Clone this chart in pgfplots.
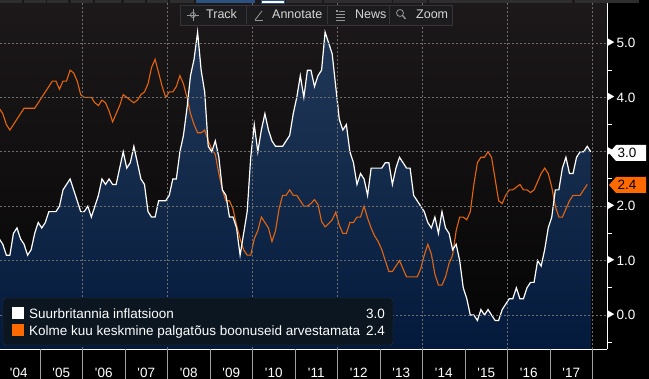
\documentclass[border=0pt]{standalone}
\usepackage{pgfplots}
\pgfplotsset{compat=1.18}
\usepackage{pgfplotstable}
\usepackage{fontspec}
\setmainfont{Liberation Sans}
\definecolor{orangeL}{HTML}{E5650E}
\definecolor{orangeB}{HTML}{FF6A00}
\definecolor{bgTop}{HTML}{1D191B}
\definecolor{bgMid}{HTML}{111311}
\definecolor{bgBot}{HTML}{040404}
\definecolor{fillT}{HTML}{213858}
\definecolor{fillB}{HTML}{02183A}
\definecolor{gridc}{HTML}{6E6E6E}
\definecolor{tbfill}{HTML}{1C1C1E}
\definecolor{tbborder}{HTML}{34343A}
\definecolor{tbtext}{HTML}{D6D6D6}
\definecolor{legfill}{HTML}{0C1620}
\definecolor{legborder}{HTML}{27333F}
\definecolor{tabc}{HTML}{2E2E2E}
\definecolor{tabblue}{HTML}{2C5282}
\definecolor{tickgray}{HTML}{A0A0A0}
\newcommand\bfs{\fontsize{13.5bp}{16bp}\selectfont}
\newcommand\tbfs{\fontsize{12.5bp}{15bp}\selectfont}
\newcommand\tri{\raisebox{2bp}{\tikz\fill[white](0,0)--(0,7bp)--(6bp,3.5bp)--cycle;}\hspace{2.5bp}}

% UK CPI, y/y %, monthly Jan 2004 - Dec 2017
\pgfplotstableread[row sep=\\]{
v\\
1.4\\1.3\\1.1\\1.1\\1.5\\1.6\\1.4\\1.3\\1.1\\1.2\\1.5\\1.7\\
1.6\\1.7\\1.9\\1.9\\1.9\\2.0\\2.3\\2.4\\2.5\\2.3\\2.1\\1.9\\
1.9\\2.0\\1.8\\2.0\\2.2\\2.5\\2.4\\2.5\\2.4\\2.4\\2.7\\3.0\\
2.7\\2.8\\3.1\\2.8\\2.5\\2.4\\1.9\\1.8\\1.8\\2.1\\2.1\\2.1\\
2.2\\2.5\\2.5\\3.0\\3.3\\3.8\\4.4\\4.7\\5.2\\4.5\\4.1\\3.1\\
3.0\\3.2\\2.9\\2.3\\2.2\\1.8\\1.8\\1.6\\1.1\\1.5\\1.9\\2.9\\
3.5\\3.0\\3.4\\3.7\\3.4\\3.2\\3.1\\3.1\\3.1\\3.2\\3.3\\3.7\\
4.0\\4.4\\4.0\\4.5\\4.5\\4.2\\4.4\\4.5\\5.2\\5.0\\4.8\\4.2\\
3.6\\3.4\\3.5\\3.0\\2.8\\2.4\\2.6\\2.5\\2.2\\2.7\\2.7\\2.7\\
2.7\\2.8\\2.8\\2.4\\2.7\\2.9\\2.8\\2.7\\2.7\\2.2\\2.1\\2.0\\
1.9\\1.7\\1.6\\1.8\\1.5\\1.9\\1.6\\1.5\\1.2\\1.3\\1.0\\0.5\\
0.3\\0.0\\0.0\\-0.1\\0.1\\0.0\\0.1\\0.0\\-0.1\\-0.1\\0.1\\0.2\\
0.3\\0.3\\0.5\\0.3\\0.3\\0.5\\0.6\\0.6\\1.0\\0.9\\1.2\\1.6\\
1.8\\2.3\\2.3\\2.7\\2.9\\2.6\\2.6\\2.9\\3.0\\3.0\\3.1\\3.0\\
}\cpi

% Regular pay growth, 3m avg y/y %, monthly Jan 2004 - Nov 2017
\pgfplotstableread[row sep=\\]{
v\\
3.8\\3.7\\3.5\\3.4\\3.5\\3.6\\3.7\\3.8\\3.8\\3.8\\3.8\\3.9\\
4.0\\4.1\\4.2\\4.3\\4.3\\4.15\\4.3\\4.3\\4.5\\4.45\\4.3\\4.05\\
4.0\\4.0\\4.0\\3.9\\3.85\\3.95\\3.9\\3.75\\3.55\\3.7\\3.85\\4.05\\
4.0\\3.95\\3.9\\3.95\\4.05\\4.1\\4.25\\4.55\\4.7\\4.45\\4.2\\4.0\\
4.1\\4.1\\4.2\\4.4\\4.25\\4.0\\3.7\\3.5\\3.35\\3.35\\3.4\\3.2\\
3.05\\2.95\\2.6\\2.3\\2.1\\2.1\\1.95\\1.65\\1.4\\1.2\\1.1\\1.1\\
1.4\\1.55\\1.8\\1.7\\1.6\\1.35\\1.55\\1.95\\2.2\\2.2\\2.3\\2.2\\
2.2\\2.1\\2.0\\2.0\\2.05\\2.12\\2.03\\1.72\\1.62\\1.68\\1.75\\1.89\\
1.65\\1.5\\1.5\\1.7\\1.7\\1.8\\1.8\\2.0\\1.78\\1.6\\1.45\\1.35\\
1.2\\1.0\\0.8\\0.8\\0.9\\1.0\\0.85\\0.7\\0.7\\0.7\\0.7\\0.85\\
1.1\\1.3\\1.12\\0.75\\0.55\\0.55\\0.7\\0.95\\1.1\\1.55\\1.8\\1.8\\
1.75\\1.9\\2.4\\2.8\\2.9\\2.9\\3.0\\2.9\\2.5\\2.1\\2.05\\2.2\\
2.3\\2.3\\2.35\\2.4\\2.3\\2.3\\2.25\\2.3\\2.45\\2.6\\2.7\\2.6\\
2.35\\2.0\\1.8\\1.8\\1.95\\2.1\\2.2\\2.2\\2.2\\2.3\\2.4\\
}\wage

\begin{document}
\begin{tikzpicture}
\useasboundingbox (0,0) rectangle (649bp,379bp);
\fill[black] (0,0) rectangle (649bp,379bp);
\begin{axis}[
  at={(0bp,30bp)}, anchor=south west,
  scale only axis, width=607bp, height=349bp,
  xmin=2004.0588, xmax=2018.341, ymin=-0.625, ymax=5.79,
  axis x line*=bottom, axis y line*=right,
  axis line style={white, line width=1bp, -},
  axis background/.style={top color=bgTop, middle color=bgMid, bottom color=bgBot},
  xtick={2004.5,2005.5,2006.5,2007.5,2008.5,2009.5,2010.5,2011.5,2012.5,2013.5,2014.5,2015.5,2016.5,2017.5},
  xticklabels={\textquotesingle04,\textquotesingle05,\textquotesingle06,\textquotesingle07,\textquotesingle08,\textquotesingle09,\textquotesingle10,\textquotesingle11,\textquotesingle12,\textquotesingle13,\textquotesingle14,\textquotesingle15,\textquotesingle16,\textquotesingle17},
  xticklabel style={anchor=north, inner sep=0pt, yshift=-19bp, font=\bfs, text=white},
  ytick={0,1,2,3,4,5},
  yticklabels={\tri0.0,\tri1.0,\tri2.0,\tri3.0,\tri4.0,\tri5.0},
  yticklabel style={anchor=west, inner sep=0pt, xshift=1bp, font=\bfs, text=white},
  minor ytick={-0.5,0.5,1.5,2.5,3.5,4.5},
  major tick length=0pt, minor tick length=5bp, tick align=outside,
  tick style={white, line width=1bp},
  ymajorgrids,
  grid style={gridc, line width=0.8bp, dash pattern=on 2bp off 2bp},
  extra x ticks={2006,2008,2010,2012,2014,2016,2018},
  extra x tick labels={},
  extra x tick style={grid=major},
  axis on top,
]
\addplot[draw=none, top color=fillT, bottom color=fillB]
  table[x expr={2004+(\coordindex+0.5)/12}, y=v]{\cpi}
  -- (axis cs:2017.96,-1) -- (axis cs:2004.04,-1) -- cycle;
\addplot[orangeL, line width=1.1bp] table[x expr={2004+(\coordindex+0.5)/12}, y=v]{\wage};
\addplot[white, line width=1.2bp] table[x expr={2004+(\coordindex+0.5)/12}, y=v]{\cpi};
\end{axis}
% year boundary ticks
\foreach \k in {0,...,13} \draw[tickgray, line width=1bp] ({(40+42.5*\k)*1bp},0) -- ({(40+42.5*\k)*1bp},30bp);
% last value boxes
\fill[white] (609bp,226bp) -- (616bp,234bp) -- (646bp,234bp) -- (646bp,218bp) -- (616bp,218bp) -- cycle;
\node[text=black, font=\bfs, inner sep=0pt] at (627bp,226bp) {3.0};
\fill[orangeB] (609bp,194bp) -- (616bp,202bp) -- (646bp,202bp) -- (646bp,186bp) -- (616bp,186bp) -- cycle;
\node[text=black, font=\bfs, inner sep=0pt] at (627bp,194bp) {2.4};
% legend
\filldraw[fill=legfill, draw=legborder, rounded corners=3bp] (3bp,34bp) rectangle (393bp,81bp);
\fill[white] (12bp,60bp) rectangle (24bp,72bp);
\fill[orangeB] (12bp,43bp) rectangle (24bp,55bp);
\node[anchor=base west, inner sep=0pt, font=\bfs, text=white] at (29bp,60bp) {Suurbritannia inflatsioon};
\node[anchor=base east, inner sep=0pt, font=\bfs, text=white] at (385bp,60bp) {3.0};
\node[anchor=base west, inner sep=0pt, font=\bfs, text=white] at (29bp,43bp) {Kolme kuu keskmine palgatõus boonuseid arvestamata};
\node[anchor=base east, inner sep=0pt, font=\bfs, text=white] at (385bp,43bp) {2.4};
% top tabs
\foreach \a/\b in {0/22,24/46,47/68,71/93,95/121,124/145,147/168,170/194,286/322,324/392,393/427,429/572,575/639}
  \fill[tabc] (\a bp,376bp) rectangle (\b bp,379bp);
\fill[tabblue] (196bp,376bp) rectangle (255bp,379bp);
\filldraw[fill=white, draw=tabblue] (261bp,376bp) rectangle (284bp,379bp);
% toolbar
\filldraw[fill=tbfill, draw=tbborder] (180bp,354bp) rectangle (452bp,374bp);
\draw[tbborder] (246bp,355bp) -- (246bp,373bp);
\draw[tbborder] (327bp,355bp) -- (327bp,373bp);
\draw[tbborder] (389bp,355bp) -- (389bp,373bp);
\begin{scope}[tbtext!70!black, line width=0.8bp]
\draw (193bp,364bp) circle (2.5bp);
\draw (187bp,364bp) -- (199bp,364bp);
\draw (193bp,358bp) -- (193bp,370bp);
\draw (255bp,359bp) -- (262bp,368bp);
\draw (255bp,359bp) -- (263bp,359bp);
\draw[line width=1.2bp] (336bp,368bp) -- (338bp,368bp);
\draw (339bp,368bp) -- (345bp,368bp);
\draw (336bp,365bp) -- (345bp,365bp);
\draw (336bp,362bp) -- (345bp,362bp);
\draw (336bp,359bp) -- (345bp,359bp);
\draw (400bp,366bp) circle (3.5bp);
\draw[line width=1.3bp] (402.5bp,363.5bp) -- (405.5bp,360bp);
\end{scope}
\node[anchor=base west, inner sep=0pt, font=\tbfs, text=tbtext] at (206bp,360bp) {Track};
\node[anchor=base west, inner sep=0pt, font=\tbfs, text=tbtext] at (272bp,360bp) {Annotate};
\node[anchor=base west, inner sep=0pt, font=\tbfs, text=tbtext] at (355bp,360bp) {News};
\node[anchor=base west, inner sep=0pt, font=\tbfs, text=tbtext] at (416bp,360bp) {Zoom};
\end{tikzpicture}
\end{document}
